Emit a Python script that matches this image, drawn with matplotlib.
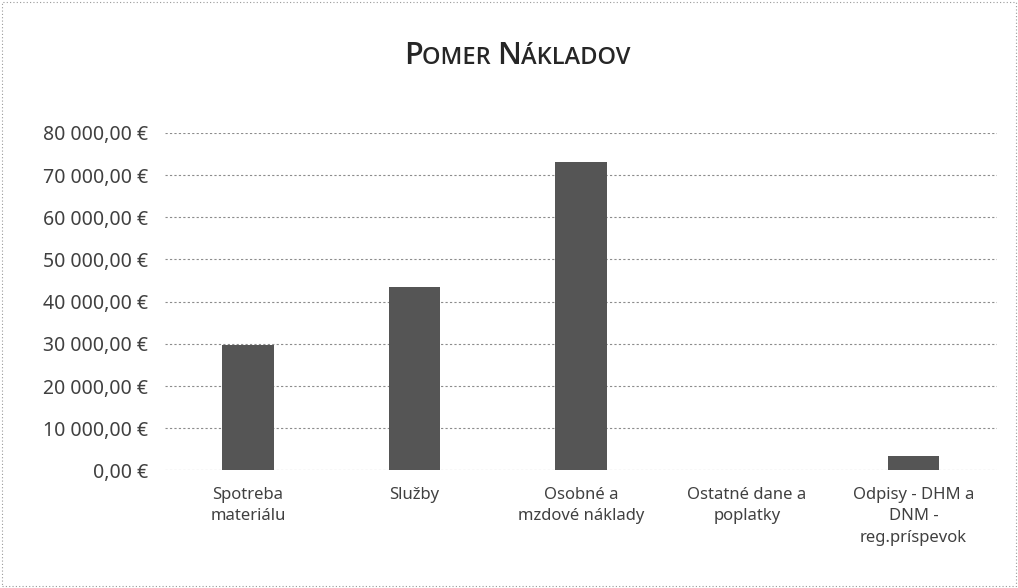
import matplotlib.pyplot as plt
from matplotlib.ticker import FuncFormatter, MultipleLocator
from matplotlib.offsetbox import TextArea, HPacker, AnchoredOffsetbox
from matplotlib.patches import Rectangle

plt.rcParams['font.family'] = ['Noto Sans', 'DejaVu Sans']

# data
kategorie = ["Spotreba\nmateriálu", "Služby", "Osobné a\nmzdové náklady",
             "Ostatné dane a\npoplatky", "Odpisy - DHM a\nDNM -\nreg.príspevok"]
naklady = [29800, 43500, 73000, 0, 3500]

def eur(v, pos):
    s = "{:,.2f}".format(v).replace(",", " ").replace(".", ",")
    return s + " €"

fig = plt.figure(figsize=(10.18, 5.88), dpi=100)
ax = fig.add_axes([0.162, 0.2, 0.817, 0.574])

x = range(len(naklady))
ax.bar(x, naklady, width=0.31, color='#555555', zorder=3)

ax.set_xlim(-0.5, len(naklady) - 0.5)
ax.set_ylim(0, 80000)
ax.yaxis.set_major_locator(MultipleLocator(10000))
ax.yaxis.set_major_formatter(FuncFormatter(eur))
ax.set_xticks(list(x))
ax.set_xticklabels(kategorie, fontsize=12, color='#404040', linespacing=1.45)
ax.tick_params(axis='y', labelsize=14, labelcolor='#404040', length=0, pad=12)
ax.tick_params(axis='x', length=0, pad=12)
ax.grid(axis='y', color='#8c8c8c', linestyle=(0, (2, 2)), linewidth=0.8, zorder=0)
for s in ax.spines.values():
    s.set_visible(False)

# title in small caps
parts = [("P", 22), ("OMER ", 17), ("N", 22), ("ÁKLADOV", 17)]
boxes = [TextArea(t, textprops=dict(fontsize=fs, fontweight='semibold', color='#262626',
                                    family=['Open Sans', 'DejaVu Sans']))
         for t, fs in parts]
title = HPacker(children=boxes, align="baseline", pad=0, sep=0)
fig.add_artist(AnchoredOffsetbox(loc='center', child=title, frameon=False,
                                 bbox_to_anchor=(0.508, 0.905),
                                 bbox_transform=fig.transFigure, pad=0, borderpad=0))

fig.add_artist(Rectangle((0.002, 0.003), 0.996, 0.994, transform=fig.transFigure,
                         fill=False, edgecolor='#999999', linestyle=(0, (1, 2)),
                         linewidth=0.8))

fig.savefig("out.png", dpi=100, facecolor='white')
